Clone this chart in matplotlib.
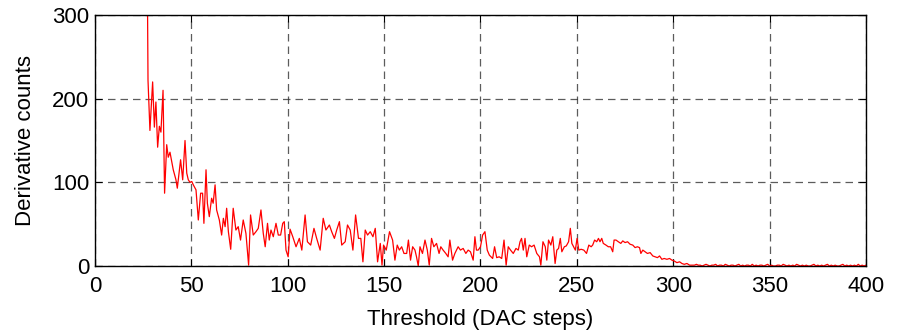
import matplotlib
matplotlib.use("Agg")
import matplotlib.pyplot as plt

# Threshold (DAC steps) and derivative counts
thr_head = [27.0, 27.5, 28.5, 29.9, 30.8, 31.6, 32.5, 33.4, 34.2, 35.3, 36.1, 37.2, 38.0,
            38.9, 40.6, 42.0, 42.7, 44.4, 45.5, 46.7, 47.6, 48.4, 49.3, 50.2, 51.0, 52.4,
            53.6, 54.8, 55.8, 56.5, 57.6, 58.3, 59.3, 60.5, 61.3, 62.3, 63.1, 64.5, 65.7,
            66.6, 67.5, 68.3, 69.2, 70.4, 71.7, 73.1, 74.3, 75.5, 76.9, 78.3, 79.7, 80.7,
            82.1, 83.5, 84.7, 86.1, 87.3, 88.3, 89.5, 90.4, 91.3, 92.5, 93.9, 95.1, 96.3,
            97.4, 98.2, 99.1, 100.2]
cnt_head = [400, 222, 162, 220, 166, 196, 142, 167, 160, 210, 87, 145, 130,
            136, 115, 103, 93, 127, 103, 150, 111, 103, 100, 101, 97, 91,
            55, 87, 87, 51, 115, 75, 59, 81, 75, 97, 67, 55, 37,
            57, 47, 69, 41, 20, 69, 43, 47, 31, 55, 39, 1, 61,
            37, 41, 45, 67, 39, 23, 51, 31, 43, 35, 51, 37, 37,
            51, 53, 19, 11]

thr_mid = [101.2, 102.6, 104.3, 106.0, 107.3, 109.0, 110.2, 111.9, 113.6, 115.0, 116.8,
           118.4, 119.8, 121.6, 122.8, 124.2, 125.4, 126.8, 128.0, 129.8, 131.0, 132.4,
           133.8, 135.2, 136.7, 137.9, 139.0, 140.2, 141.4, 142.8, 144.2, 145.4, 146.6,
           148.0, 148.9, 149.7, 151.1, 152.8, 154.4, 155.6, 156.8, 157.9, 159.1, 160.3,
           161.7, 162.6, 163.7, 164.8, 166.0, 166.8, 167.7, 168.6, 169.9, 171.2, 172.4,
           173.4, 174.6, 175.8, 177.2, 178.5, 179.4, 180.6, 182.0, 183.2, 184.1, 185.5,
           186.7, 188.4, 189.6, 191.0, 192.4, 193.6, 194.8, 196.2, 197.1, 197.9, 198.8,
           200.0, 201.1, 202.3, 203.5, 204.6]
cnt_mid = [44, 35, 23, 33, 19, 61, 29, 25, 45, 33, 19,
           57, 43, 49, 41, 33, 43, 53, 25, 29, 49, 43,
           19, 61, 33, 33, 5, 43, 37, 41, 35, 45, 5,
           27, 1, 25, 19, 41, 31, 7, 25, 19, 23, 15,
           15, 31, 7, 23, 19, 11, 0, 23, 15, 31, 19,
           1, 33, 23, 27, 15, 23, 19, 15, 11, 31, 7,
           15, 23, 19, 21, 15, 19, 17, 7, 35, 19, 19,
           23, 37, 41, 19, 13]

thr_late = [206.3, 207.3, 208.4, 209.7, 211.0, 212.2, 213.3, 214.4, 215.6, 217.0, 218.4,
            219.6, 220.5, 221.3, 222.2, 223.1, 224.0, 225.3, 226.5, 227.8, 229.2, 230.6,
            231.3, 232.4, 233.6, 234.4, 235.3, 236.5, 237.5, 238.7, 239.6, 240.5, 241.4,
            242.2, 243.5, 244.5, 245.7, 246.6, 247.4, 248.3, 249.2, 250.1, 251.0, 252.2,
            253.6, 255.0, 256.2, 257.4, 258.2, 259.2, 260.3, 261.2, 262.0, 262.9, 263.7,
            265.1, 266.3, 267.5, 268.6, 269.3, 270.3, 271.5, 272.8, 273.8, 275.0, 276.3,
            277.6, 279.0, 280.2, 281.4, 282.5, 283.2, 284.2, 285.4, 286.6, 288.0, 289.4,
            290.6, 291.8, 292.9, 294.1, 295.3, 296.7, 298.1, 299.3, 300.5, 301.9, 303.3,
            304.5, 305.7, 307.1, 308.5, 309.7]
cnt_late = [9, 23, 10, 11, 9, 31, 1, 23, 19, 15, 21,
            19, 29, 33, 19, 33, 11, 25, 23, 25, 15, 11,
            1, 29, 23, 7, 31, 25, 35, 3, 19, 21, 33,
            17, 23, 24, 29, 45, 27, 23, 19, 33, 19, 20,
            19, 15, 25, 23, 25, 31, 29, 33, 29, 33, 27,
            25, 23, 23, 17, 31, 31, 29, 27, 30, 28, 29,
            26, 25, 22, 23, 22, 15, 19, 17, 15, 16, 12,
            11, 10, 12, 8, 9, 8, 9, 7, 6, 4, 5,
            3, 2, 3, 1, 1]

thr_tail = list(range(311, 401))
cnt_tail = [1, 2, 1, 1, 0, 1, 2, 1, 0, 1, 1, 2, 0, 1, 1, 0, 2, 1, 0, 1,
            1, 0, 1, 2, 0, 1, 0, 1, 1, 0, 2, 0, 1, 0, 1, 1, 0, 1, 2, 0,
            1, 0, 0, 1, 1, 0, 2, 1, 0, 1, 0, 1, 0, 2, 1, 0, 1, 0, 1, 0,
            0, 1, 2, 0, 1, 0, 1, 0, 1, 2, 0, 1, 0, 1, 0, 0, 1, 2, 0, 1,
            0, 1, 0, 1, 0, 2, 0, 1, 0, 1]

x_ticks = [0, 50, 100, 150, 200, 250, 300, 350, 400]
y_ticks = [0, 100, 200, 300]

x = thr_head + thr_mid + thr_late + thr_tail
y = cnt_head + cnt_mid + cnt_late + cnt_tail

plt.rcParams['font.family'] = ['Liberation Sans', 'DejaVu Sans']

fig = plt.figure(figsize=(9.04, 3.33), dpi=100)
ax = fig.add_axes([95 / 904, 1 - 266 / 333, (866 - 95) / 904, (266 - 15) / 333])

ax.plot(x, y, color='#ff0000', linewidth=0.9, clip_on=True)

ax.set_xlim(0, 400)
ax.set_ylim(0, 300)
ax.set_xticks(x_ticks)
ax.set_yticks(y_ticks)
ax.tick_params(direction='in', length=5, width=0.8, labelsize=16, top=True, right=True,
               colors='black')
ax.tick_params(axis='x', pad=7)
ax.tick_params(axis='y', pad=4)
ax.grid(True, color='#333333', linestyle=(0, (6, 4)), linewidth=0.9, alpha=0.8)
for s in ax.spines.values():
    s.set_linewidth(1.0)
    s.set_color('black')

ax.set_xlabel('Threshold (DAC steps)', fontsize=16, labelpad=9)
ax.set_ylabel('Derivative counts', fontsize=16, labelpad=12)

fig.savefig('out.png', dpi=100)
